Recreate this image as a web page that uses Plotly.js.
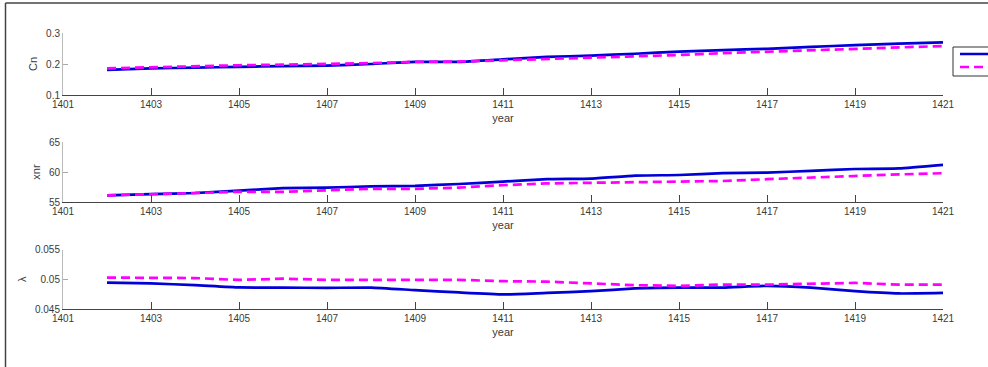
<!DOCTYPE html>
<html>
<head>
<meta charset="utf-8">
<script src="https://cdn.plot.ly/plotly-3.0.1.min.js"></script>
<style>html,body{margin:0;padding:0;background:#fff;}#chart{width:988px;height:367px;}</style>
</head>
<body>
<div id="chart"></div>
<script>
const years = [1402,1403,1404,1405,1406,1407,1408,1409,1410,1411,1412,1413,1414,1415,1416,1417,1418,1419,1420,1421];

const cnActual    = [0.181,0.186,0.188,0.191,0.193,0.195,0.200,0.207,0.207,0.215,0.223,0.227,0.233,0.240,0.245,0.249,0.255,0.261,0.266,0.270];
const cnPredicted = [0.186,0.190,0.193,0.196,0.198,0.200,0.203,0.207,0.208,0.212,0.216,0.222,0.225,0.229,0.235,0.240,0.245,0.250,0.254,0.258];

const xnrActual    = [56.1,56.3,56.5,56.9,57.3,57.4,57.6,57.7,58.0,58.4,58.8,58.9,59.4,59.5,59.8,59.9,60.2,60.5,60.6,61.2];
const xnrPredicted = [56.1,56.3,56.5,56.7,56.7,56.9,57.2,57.2,57.4,57.8,58.1,58.2,58.3,58.4,58.5,58.8,59.1,59.4,59.6,59.8];

const lamActual    = [0.04944,0.0493,0.0490,0.04862,0.0486,0.04855,0.0486,0.04817,0.04778,0.04745,0.0477,0.0480,0.04845,0.0486,0.0486,0.04889,0.0486,0.0480,0.04761,0.0477];
const lamPredicted = [0.05028,0.0503,0.0502,0.04988,0.0501,0.0499,0.04995,0.0499,0.0499,0.04967,0.0496,0.04928,0.0490,0.04889,0.04911,0.0491,0.0493,0.04939,0.0491,0.0491];

const xTicks = [1401,1403,1405,1407,1409,1411,1413,1415,1417,1419,1421];
const cnTicks = [0.1,0.2,0.3];
const xnrTicks = [55,60,65];
const lamTicks = [0.045,0.05,0.055];
const lamTickText = ['0.045','0.05','0.055'];
// legend labels are cut off at the figure's right edge in the reference
const seriesNames = ['', ''];

const BLUE = 'rgb(0,0,215)';
const MAG = 'rgb(255,0,255)';
const W = 988, H = 367, L = 63, R = 45;
const px = x => (x - L) / (W - L - R);
const py = y => 1 - y / H;

function solid(x, y, xa, ya, show, leg) {
  return {x: x, y: y, xaxis: xa, yaxis: ya, type: 'scatter', mode: 'lines',
    name: seriesNames[0], showlegend: show, legend: leg,
    line: {color: BLUE, width: 2.7, shape: 'spline', smoothing: 0.4}};
}
function dashed(x, y, xa, ya, show, leg) {
  return {x: x, y: y, xaxis: xa, yaxis: ya, type: 'scatter', mode: 'lines',
    name: seriesNames[1], showlegend: show, legend: leg,
    line: {color: MAG, width: 2.7, dash: '9px,5px'}};
}

const data = [
  solid(years, cnActual, 'x', 'y', true, 'legend'),
  dashed(years, cnPredicted, 'x', 'y', true, 'legend2'),
  solid(years, xnrActual, 'x2', 'y2', false),
  dashed(years, xnrPredicted, 'x2', 'y2', false),
  solid(years, lamActual, 'x3', 'y3', false),
  dashed(years, lamPredicted, 'x3', 'y3', false)
];

const tickFont = {family: 'Liberation Sans, Arial, sans-serif', size: 10, color: '#3a3a3a'};
const titleFont = {family: 'Liberation Sans, Arial, sans-serif', size: 11, color: '#3a3a3a'};

function xAxis(anchor) {
  return {anchor: anchor, domain: [0, 1], range: [1401, 1421], tickvals: xTicks,
    ticks: 'inside', ticklen: 7, tickcolor: '#444', tickwidth: 1,
    showline: true, linecolor: '#444', linewidth: 1, showgrid: false, zeroline: false,
    tickfont: tickFont, title: {text: 'year', font: titleFont, standoff: 5}, automargin: false};
}
function yAxis(anchor, dom, range, tv, tt, label) {
  const a = {anchor: anchor, domain: dom, range: range, tickvals: tv,
    ticks: 'inside', ticklen: 5, tickcolor: '#aaa', tickwidth: 1,
    showline: true, linecolor: '#bbb', linewidth: 1, showgrid: false, zeroline: false,
    tickfont: tickFont, title: {text: label, font: titleFont, standoff: 6}, automargin: false};
  if (tt) a.ticktext = tt;
  return a;
}

const legFont = {family: 'Liberation Sans, Arial, sans-serif', size: 10, color: '#222'};

const layout = {
  width: W, height: H,
  margin: {l: L, r: R, t: 0, b: 0, autoexpand: false},
  paper_bgcolor: '#fff', plot_bgcolor: '#fff',
  showlegend: true,
  xaxis: xAxis('y'),
  xaxis2: xAxis('y2'),
  xaxis3: xAxis('y3'),
  yaxis: yAxis('x', [py(95), py(33)], [0.1, 0.3], cnTicks, null, 'Cn'),
  yaxis2: yAxis('x2', [py(202), py(142)], [55, 65], xnrTicks, null, 'xnr'),
  yaxis3: yAxis('x3', [py(309), py(249.5)], [0.045, 0.055], lamTicks, lamTickText, 'λ'),
  legend: {x: px(955), y: py(54), xanchor: 'left', yanchor: 'middle', bgcolor: 'rgba(0,0,0,0)',
    borderwidth: 0, font: legFont},
  legend2: {x: px(955), y: py(67), xanchor: 'left', yanchor: 'middle', bgcolor: 'rgba(0,0,0,0)',
    borderwidth: 0, font: legFont},
  shapes: [
    {type: 'rect', xref: 'paper', yref: 'paper', x0: px(953), x1: px(1000), y0: py(76), y1: py(47),
      line: {color: '#333', width: 1}, fillcolor: 'rgba(0,0,0,0)', layer: 'below'},
    {type: 'line', xref: 'paper', yref: 'paper', x0: px(5.5), x1: px(5.5), y0: 0, y1: py(3),
      line: {color: '#444', width: 1.5}},
    {type: 'line', xref: 'paper', yref: 'paper', x0: px(5.5), x1: px(990), y0: py(3), y1: py(3),
      line: {color: '#444', width: 1.5}}
  ]
};

Plotly.newPlot('chart', data, layout, {displayModeBar: false, staticPlot: true});
</script>
</body>
</html>
